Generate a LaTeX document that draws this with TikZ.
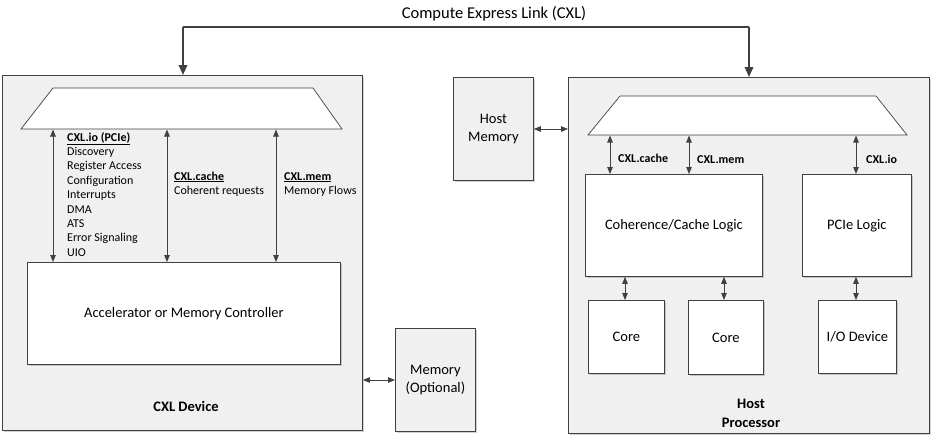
\documentclass[tikz,border=0pt]{standalone}
\usepackage{fontspec}
\setmainfont{Carlito}
\usetikzlibrary{arrows.meta,shadows}
\definecolor{edge}{HTML}{404040}
\definecolor{panelgray}{HTML}{F0F0F0}
\begin{document}
\begin{tikzpicture}[x=1pt,y=-1pt,
  shad/.style={drop shadow={shadow xshift=1.3pt,shadow yshift=-1.3pt,opacity=0.18,fill=black}},
  panel/.style={draw=edge,fill=panelgray,line width=0.9pt,shad,inner sep=0pt},
  wbox/.style={draw=edge,fill=white,line width=0.8pt,shad,inner sep=0pt,align=center,
    font=\fontsize{14.5}{17.4}\selectfont},
  gbox/.style={wbox,fill=panelgray},
  trap/.style={draw=edge,fill=white,line width=0.7pt},
  dbl/.style={draw=edge,line width=0.8pt,{Triangle[length=7pt,width=5.5pt]}-{Triangle[length=7pt,width=5.5pt]}},
  bigarrow/.style={draw=edge,line width=1.8pt,-{Triangle[length=10pt,width=8.5pt]}},
  lbl/.style={inner sep=0pt,anchor=base west,font=\fontsize{12}{14.4}\selectfont,text=black},
  blbl/.style={lbl,font=\fontsize{12}{14.4}\selectfont\bfseries},
  mid/.style={inner sep=0pt,font=\fontsize{14.5}{17.4}\selectfont,align=center}
]
\useasboundingbox (0,0) rectangle (941,437);

% ---------- CXL device ----------
\node[panel,minimum width=360pt,minimum height=355pt,anchor=north west] (dev) at (2,75) {};
\path[trap] (53,88) -- (313,88) -- (342,129) -- (21,129) -- cycle;
\node[wbox,minimum width=313pt,minimum height=102pt,anchor=north west] (acc) at (27,262) {Accelerator or Memory Controller};
\node[mid,font=\fontsize{14.5}{17.4}\selectfont\bfseries] (devlbl) at (186,406) {CXL Device};

\coordinate (dio) at (53,129.5);
\coordinate (dcache) at (167,129.5);
\coordinate (dmem) at (276,129.5);
\draw[dbl] (dio) -- (dio |- acc.north);
\draw[dbl] (dcache) -- (dcache |- acc.north);
\draw[dbl] (dmem) -- (dmem |- acc.north);

\node[blbl] (io0) at (67,141) {\underline{CXL.io (PCIe)}};
\node[lbl] (io1) at (67,155.4) {Discovery};
\node[lbl] (io2) at (67,169.8) {Register Access};
\node[lbl] (io3) at (67,184.2) {Configuration};
\node[lbl] (io4) at (67,198.6) {Interrupts};
\node[lbl] (io5) at (67,213) {DMA};
\node[lbl] (io6) at (67,227.4) {ATS};
\node[lbl] (io7) at (67,241.8) {Error Signaling};
\node[lbl] (io8) at (67,256.2) {UIO};

\node[blbl] (ca0) at (174,180) {\underline{CXL.cache}};
\node[lbl] (ca1) at (174,194) {Coherent requests};
\node[blbl] (me0) at (284,180) {\underline{CXL.mem}};
\node[lbl] (me1) at (284,194) {Memory Flows};

% ---------- Memory (Optional) ----------
\node[gbox,minimum width=80pt,minimum height=103pt,anchor=north west] (mem) at (395,328) {Memory\\(Optional)};
\draw[dbl] (dev.east |- 0,380) -- (mem.west |- 0,380);

% ---------- Host memory ----------
\node[gbox,minimum width=80pt,minimum height=103pt,anchor=north west] (hmem) at (453,77) {Host\\Memory};

% ---------- Host processor ----------
\node[panel,minimum width=361pt,minimum height=356pt,anchor=north west] (host) at (568,77) {};
\draw[dbl] (hmem.east |- 0,129) -- (host.west |- 0,129);
\path[trap] (620,96) -- (876,96) -- (907,135) -- (588,135) -- cycle;

\node[wbox,minimum width=177pt,minimum height=102pt,anchor=north west] (coh) at (585,174) {Coherence/Cache Logic};
\node[wbox,minimum width=109pt,minimum height=102pt,anchor=north west] (pcie) at (802,174) {PCIe Logic};
\node[wbox,minimum width=76pt,minimum height=73pt,anchor=north west] (core1) at (588,300) {Core};
\node[wbox,minimum width=75pt,minimum height=74pt,anchor=north west] (core2) at (688,300) {Core};
\node[wbox,minimum width=78pt,minimum height=73pt,anchor=north west] (iodev) at (818,300) {I/O Device};
\node[mid,font=\fontsize{14.5}{19}\selectfont\bfseries] (hostlbl) at (751,413.5) {Host\\Processor};

\coordinate (hcache) at (610,135.5);
\coordinate (hmemc) at (689,135.5);
\coordinate (hio) at (856,135.5);
\draw[dbl] (hcache) -- (hcache |- coh.north);
\draw[dbl] (hmemc) -- (hmemc |- coh.north);
\draw[dbl] (hio) -- (hio |- pcie.north);
\node[blbl] (hl1) at (618,162.5) {CXL.cache};
\node[blbl] (hl2) at (697,163) {CXL.mem};
\node[blbl] (hl3) at (866,163) {CXL.io};

\draw[dbl] (core1.north -| 625,0) -- (coh.south -| 625,0);
\draw[dbl] (core2.north -| 724,0) -- (coh.south -| 724,0);
\draw[dbl] (iodev.north -| 856,0) -- (pcie.south -| 856,0);

% ---------- Compute Express Link ----------
\coordinate (lt) at (183,27);
\coordinate (rt) at (749,27);
\draw[bigarrow] (rt) -- (host.north -| rt);
\draw[bigarrow] (lt) -- (dev.north -| lt);
\draw[draw=edge,line width=1.8pt] (lt) -- (rt);
\node[mid,font=\fontsize{16.5}{19}\selectfont] (cxl) at (494,14) {Compute Express Link (CXL)};
\end{tikzpicture}
\end{document}
